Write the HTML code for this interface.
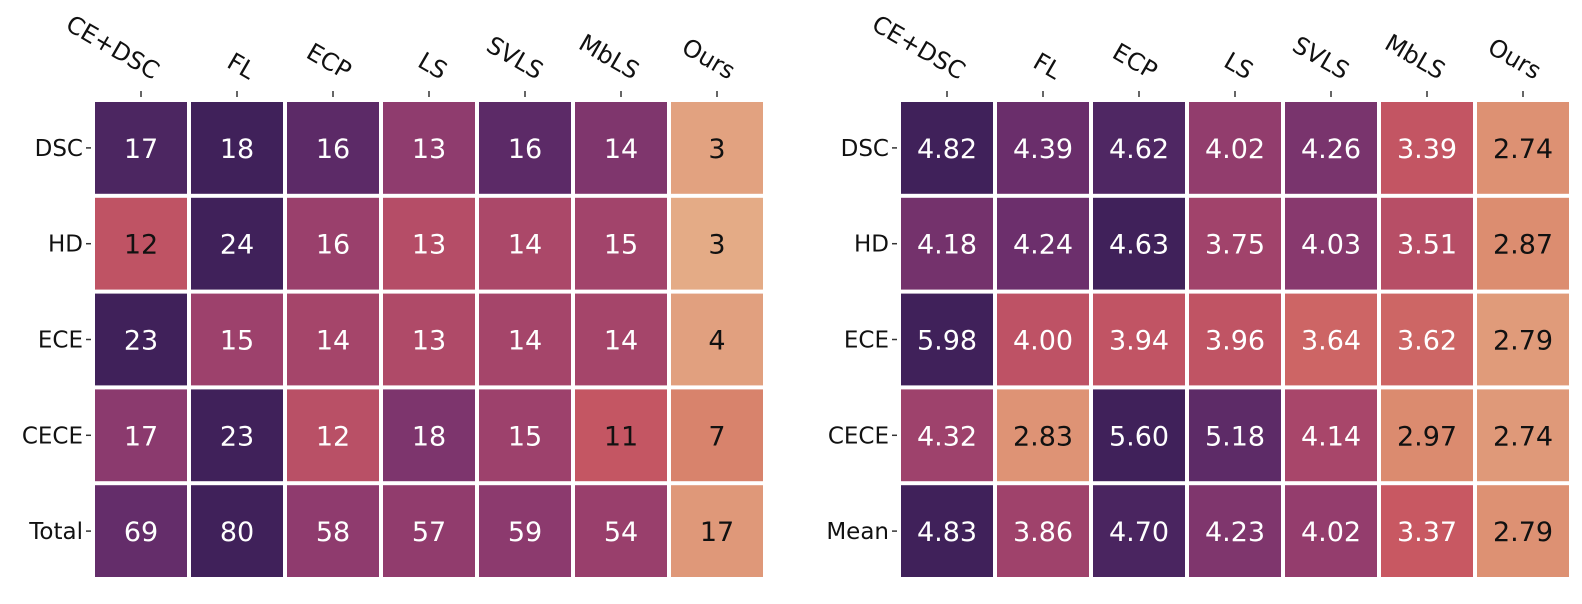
<!DOCTYPE html>
<html><head><meta charset="utf-8"><style>
html,body{margin:0;padding:0;background:#fff;}
svg{display:block;font-family:"DejaVu Sans","Liberation Sans",sans-serif;}
</style></head><body>
<svg id="chart" width="1582" height="604" viewBox="0 0 1582 604" xmlns="http://www.w3.org/2000/svg"></svg>
<script>
const methods = ["CE+DSC","FL","ECP","LS","SVLS","MbLS","Ours"];
const leftRows = ["DSC","HD","ECE","CECE","Total"];
const rightRows = ["DSC","HD","ECE","CECE","Mean"];
const leftDSC = [17,18,16,13,16,14,3];
const leftHD = [12,24,16,13,14,15,3];
const leftECE = [23,15,14,13,14,14,4];
const leftCECE = [17,23,12,18,15,11,7];
const leftTotal = [69,80,58,57,59,54,17];
const rightDSC = [4.82,4.39,4.62,4.02,4.26,3.39,2.74];
const rightHD = [4.18,4.24,4.63,3.75,4.03,3.51,2.87];
const rightECE = [5.98,4.00,3.94,3.96,3.64,3.62,2.79];
const rightCECE = [4.32,2.83,5.60,5.18,4.14,2.97,2.74];
const rightMean = [4.83,3.86,4.70,4.23,4.02,3.37,2.79];
const leftValues = [leftDSC,leftHD,leftECE,leftCECE,leftTotal];
const rightValues = [rightDSC,rightHD,rightECE,rightCECE,rightMean];

const NS="http://www.w3.org/2000/svg";
const svg=document.getElementById('chart');
const stops=[[0,[230,176,138]],[0.2,[219,138,110]],[0.4,[200,88,98]],[0.55,[168,70,106]],[0.7,[142,59,110]],[0.82,[108,47,108]],[0.92,[79,39,99]],[1,[64,33,90]]];
function cmap(p){p=Math.max(0,Math.min(1,p));for(let i=1;i<stops.length;i++){if(p<=stops[i][0]){const a=stops[i-1],b=stops[i];const f=(p-a[0])/(b[0]-a[0]);const c=a[1].map((v,k)=>Math.round(v+(b[1][k]-v)*f));return `rgb(${c[0]},${c[1]},${c[2]})`;}}return 'rgb(64,33,90)';}
function el(tag,attrs,parent){const e=document.createElementNS(NS,tag);for(const k in attrs)e.setAttribute(k,attrs[k]);(parent||svg).appendChild(e);return e;}

function panel(x0,rows,values,mode,fmt,thresh,name){
  const g=el('g',{});
  
  
  const y0=100, cw=96, ch=95.8;
  const xs=c=>x0+c*cw, ys=r=>y0+r*ch;
  methods.forEach((m,c)=>{
    const cx=xs(c)+cw/2;
    const t=el('line',{x1:cx,x2:cx,y1:91,y2:97,stroke:'#333','stroke-width':1.5},g);
    
    
    const tx=el('text',{x:cx+12,y:80,'text-anchor':'end','font-size':24,fill:'#111',transform:`rotate(30 ${cx+12} 80)`},g);
    tx.textContent=m;
    
    
  });
  rows.forEach((rn,r)=>{
    const cy=ys(r)+ch/2;
    const t=el('line',{x1:x0-7,x2:x0-2,y1:cy,y2:cy,stroke:'#333','stroke-width':1.5},g);
    
    
    const lb=el('text',{x:x0-10,y:cy+8,'text-anchor':'end','font-size':23,fill:'#111'},g);
    lb.textContent=rn;
    
    
    const vals=values[r];const mx=Math.max(...vals),mn=Math.min(...vals);
    vals.forEach((v,c)=>{
      let p = mode==='ratio' ? (v/mx-0.1)/0.9 : (v-(mn-0.4))/(mx-(mn-0.4));
      const rect=el('rect',{x:xs(c)+2,y:ys(r)+2,width:cw-4,height:ch-4,fill:cmap(p)},g);
      
      
      const tx=el('text',{x:xs(c)+cw/2,y:ys(r)+ch/2+10,'text-anchor':'middle','font-size':27,fill:p<thresh?'#111':'#fff'},g);
      tx.textContent=fmt(v);
      
      
    });
  });
}
panel(93,leftRows,leftValues,'ratio',v=>String(v),0.46,'left-heatmap-ranks');
panel(899,rightRows,rightValues,'range',v=>v.toFixed(2),0.3,'right-heatmap-means');
</script>
</body></html>
